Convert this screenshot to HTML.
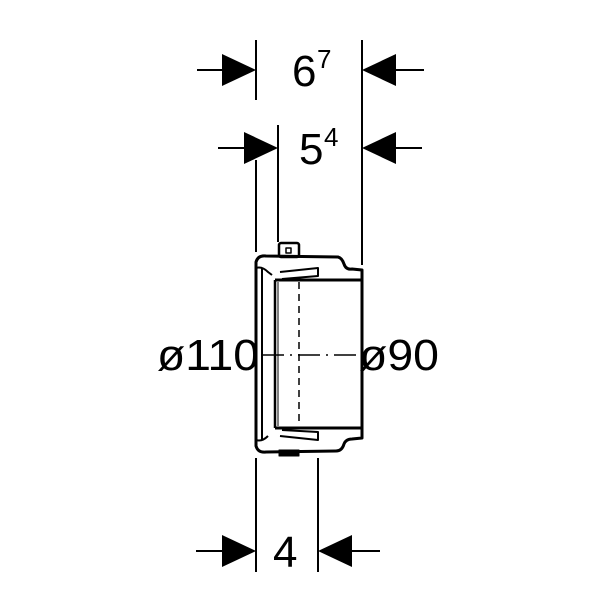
<!DOCTYPE html>
<html><head><style>body{margin:0;background:#fff}svg{display:block}</style></head><body>
<svg width="600" height="600" viewBox="0 0 600 600" xmlns="http://www.w3.org/2000/svg" font-family="Liberation Sans, sans-serif">
<g stroke="#000" stroke-width="2" fill="none">
<line x1="256" y1="40" x2="256" y2="100"/>
<line x1="256" y1="160" x2="256" y2="252"/>
<line x1="362" y1="40" x2="362" y2="265"/>
<line x1="278" y1="125" x2="278" y2="242"/>
<line x1="256" y1="458" x2="256" y2="572"/>
<line x1="318" y1="458" x2="318" y2="572"/>
<line x1="197" y1="70" x2="230" y2="70"/><line x1="388" y1="70" x2="424" y2="70"/>
<line x1="218" y1="148" x2="250" y2="148"/><line x1="388" y1="148" x2="422" y2="148"/>
<line x1="196" y1="551" x2="228" y2="551"/><line x1="345" y1="551" x2="380" y2="551"/>
</g>
<g fill="#000">
<polygon points="256,70 222,54 222,86"/><polygon points="362,70 396,54 396,86"/>
<polygon points="278,148 244,132 244,164"/><polygon points="362,148 396,132 396,164"/>
<polygon points="256,551 222,535 222,567"/><polygon points="318,551 352,535 352,567"/>
</g>
<g stroke="#000" fill="none" stroke-linejoin="round">
<path d="M256,262 Q258,255 266,256 L338,257 Q342,258 344,264 Q346,270 352,269 L362,270 L362,438 L352,439 Q346,439 344,444 Q342,451 336,451 L266,452 Q258,453 256,446 Z" stroke-width="3"/>
<path d="M256,268 Q262,266 268,272 L272,275" stroke-width="2"/>
<path d="M256,440 Q262,442 268,436" stroke-width="2"/>
<path d="M262,268 L262,440" stroke-width="2"/>
<path d="M275,280 L362,280" stroke-width="3"/>
<path d="M275,428 L362,428" stroke-width="3"/>
<path d="M275,280 L275,428" stroke-width="2.5"/>
<path d="M278,282 L278,426" stroke-width="1"/>
<path d="M280,272 L318,268 L318,276 L282,279" stroke-width="2"/>
<path d="M280,436 L318,440 L318,432 L282,430" stroke-width="2"/>
<rect x="279" y="243" width="20" height="14" rx="2" stroke-width="2.5"/>
<rect x="286" y="248" width="5" height="5" stroke-width="1.5"/>
<rect x="279" y="450" width="20" height="6" fill="#000"/>
<line x1="299" y1="282" x2="299" y2="426" stroke-width="1.5" stroke-dasharray="7,5"/>
<line x1="262" y1="355" x2="358" y2="355" stroke-width="1.5" stroke-dasharray="22,6,2,6"/>
</g>
<g font-size="44" fill="#000">
<text x="292" y="86">6</text><text x="317" y="68" font-size="26">7</text>
<text x="299" y="164">5</text><text x="324" y="146" font-size="26">4</text>
<text x="157" y="370" textLength="102" lengthAdjust="spacingAndGlyphs">ø110</text>
<text x="359" y="370" textLength="80" lengthAdjust="spacingAndGlyphs">ø90</text>
<text x="273" y="567">4</text>
</g>
</svg>
</body></html>
